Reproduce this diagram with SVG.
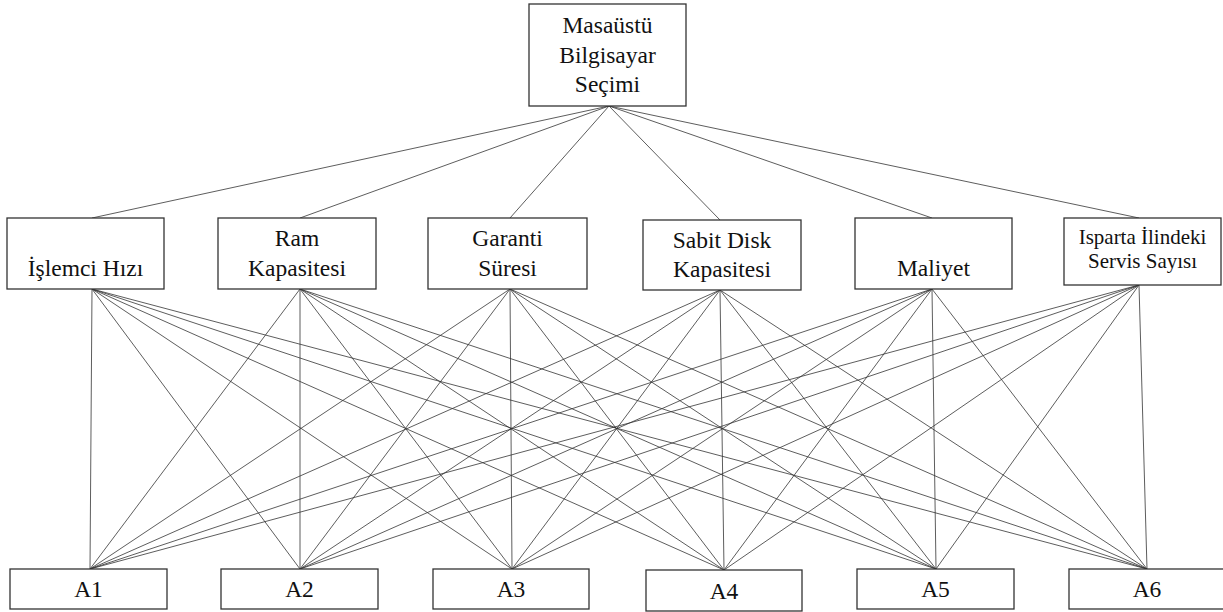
<svg xmlns="http://www.w3.org/2000/svg" width="1223" height="612" viewBox="0 0 1223 612">
<style>
rect{fill:#fff;stroke:#333;stroke-width:1.3}
text{font-family:"Liberation Serif","Times New Roman",serif;fill:#111;text-anchor:middle}
.t{font-size:23.5px}
.s{font-size:21px}
.a{font-size:23.5px}
#connectors line{stroke:#333;stroke-width:0.8}
</style>
<rect x="0" y="0" width="1223" height="612" style="fill:#fff;stroke:none"/>
<g id="connectors">
<line x1="609" y1="106" x2="92" y2="218"/>
<line x1="609" y1="106" x2="300" y2="218"/>
<line x1="609" y1="106" x2="510" y2="218"/>
<line x1="609" y1="106" x2="720" y2="220"/>
<line x1="609" y1="106" x2="932" y2="218"/>
<line x1="609" y1="106" x2="1139" y2="218"/>
<line x1="92" y1="289" x2="90" y2="569"/><line x1="92" y1="289" x2="300" y2="569"/><line x1="92" y1="289" x2="512" y2="569"/><line x1="92" y1="289" x2="724" y2="570"/><line x1="92" y1="289" x2="936" y2="569"/><line x1="92" y1="289" x2="1147" y2="569"/>
<line x1="300" y1="289" x2="90" y2="569"/><line x1="300" y1="289" x2="300" y2="569"/><line x1="300" y1="289" x2="512" y2="569"/><line x1="300" y1="289" x2="724" y2="570"/><line x1="300" y1="289" x2="936" y2="569"/><line x1="300" y1="289" x2="1147" y2="569"/>
<line x1="510" y1="289" x2="90" y2="569"/><line x1="510" y1="289" x2="300" y2="569"/><line x1="510" y1="289" x2="512" y2="569"/><line x1="510" y1="289" x2="724" y2="570"/><line x1="510" y1="289" x2="936" y2="569"/><line x1="510" y1="289" x2="1147" y2="569"/>
<line x1="720" y1="290" x2="90" y2="569"/><line x1="720" y1="290" x2="300" y2="569"/><line x1="720" y1="290" x2="512" y2="569"/><line x1="720" y1="290" x2="724" y2="570"/><line x1="720" y1="290" x2="936" y2="569"/><line x1="720" y1="290" x2="1147" y2="569"/>
<line x1="932" y1="289" x2="90" y2="569"/><line x1="932" y1="289" x2="300" y2="569"/><line x1="932" y1="289" x2="512" y2="569"/><line x1="932" y1="289" x2="724" y2="570"/><line x1="932" y1="289" x2="936" y2="569"/><line x1="932" y1="289" x2="1147" y2="569"/>
<line x1="1139" y1="285" x2="90" y2="569"/><line x1="1139" y1="285" x2="300" y2="569"/><line x1="1139" y1="285" x2="512" y2="569"/><line x1="1139" y1="285" x2="724" y2="570"/><line x1="1139" y1="285" x2="936" y2="569"/><line x1="1139" y1="285" x2="1147" y2="569"/>
</g>
<g id="goal"><rect x="529" y="4" width="157" height="102"/>
<text class="t" x="607.5" y="33">Masaüstü</text><text class="t" x="607.5" y="63">Bilgisayar</text><text class="t" x="607.5" y="92">Seçimi</text></g>
<g id="c1"><rect x="7" y="218" width="157" height="71"/><text class="t" x="85.5" y="276">İşlemci Hızı</text></g>
<g id="c2"><rect x="218" y="218" width="158" height="71"/><text class="t" x="297" y="246">Ram</text><text class="t" x="297" y="276">Kapasitesi</text></g>
<g id="c3"><rect x="428" y="218" width="159" height="71"/><text class="t" x="507.5" y="246">Garanti</text><text class="t" x="507.5" y="276">Süresi</text></g>
<g id="c4"><rect x="643" y="220" width="158" height="70"/><text class="t" x="722" y="248">Sabit Disk</text><text class="t" x="722" y="277">Kapasitesi</text></g>
<g id="c5"><rect x="855" y="218" width="157" height="71"/><text class="t" x="933.5" y="276">Maliyet</text></g>
<g id="c6"><rect x="1064" y="218" width="157" height="67"/><text class="s" x="1142.5" y="244">Isparta İlindeki</text><text class="s" x="1142.5" y="268">Servis Sayısı</text></g>
<g id="a1"><rect x="10" y="569" width="157" height="40"/><text class="a" x="88.5" y="597">A1</text></g>
<g id="a2"><rect x="221" y="569" width="157" height="40"/><text class="a" x="299.5" y="597">A2</text></g>
<g id="a3"><rect x="433" y="569" width="156" height="40"/><text class="a" x="511" y="597">A3</text></g>
<g id="a4"><rect x="646" y="570" width="156" height="41"/><text class="a" x="724" y="599">A4</text></g>
<g id="a5"><rect x="857" y="569" width="157" height="40"/><text class="a" x="935.5" y="597">A5</text></g>
<g id="a6"><rect x="1069" y="569" width="156" height="40"/><text class="a" x="1147" y="597">A6</text></g>
</svg>
